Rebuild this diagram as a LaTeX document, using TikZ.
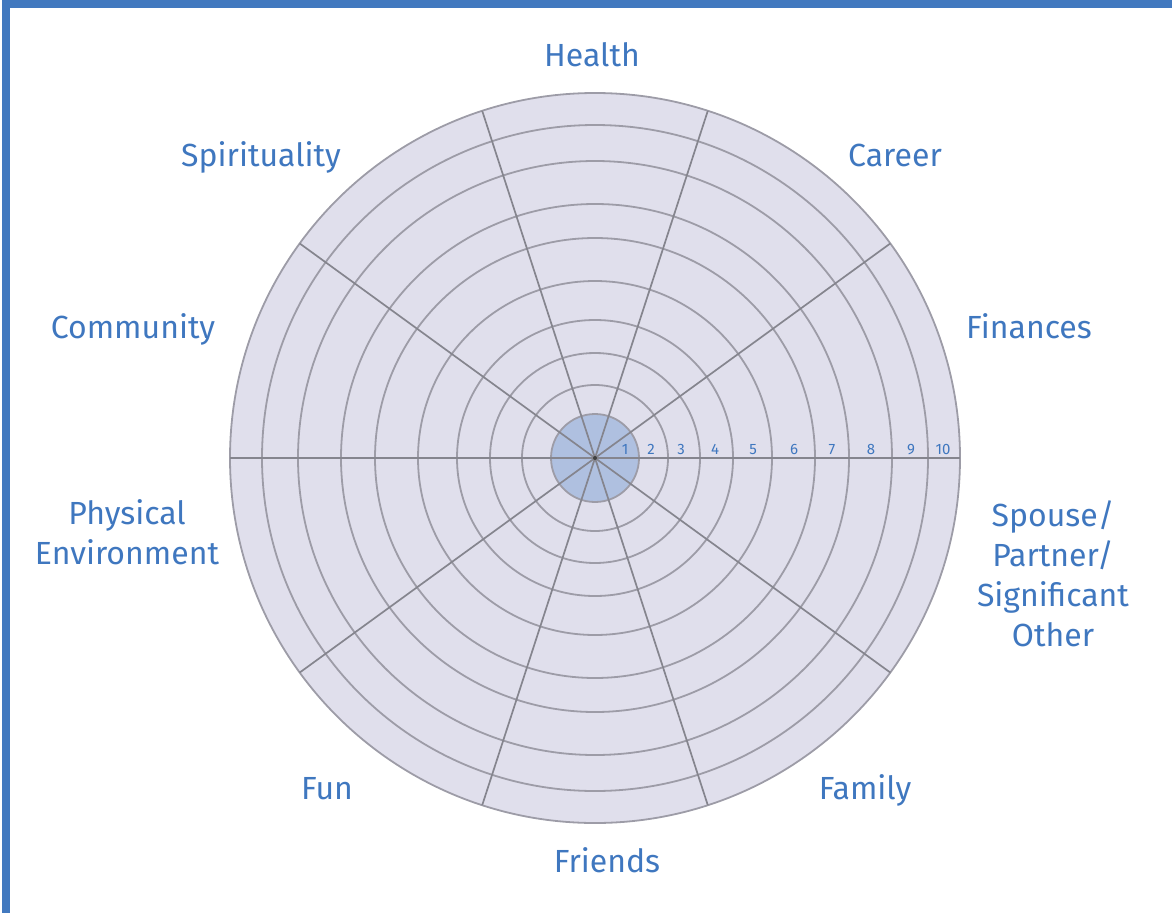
\documentclass[tikz,border=0pt]{standalone}
\usepackage{fontspec}
\setmainfont{Fira Sans}
\usetikzlibrary{calc}

\definecolor{wheelfill}{HTML}{E0DFEC}
\definecolor{corefill}{HTML}{AFC0E0}
\definecolor{gridline}{HTML}{9D9CA7}
\definecolor{labelblue}{HTML}{3F77BF}
\definecolor{framebar}{HTML}{4279BF}

\begin{document}
\begin{tikzpicture}[x=1pt,y=-1pt]

\def\rad{365pt}
\def\angdist{36}
\def\corerad{44pt}

\tikzset{ring/.style = {draw=gridline, line width=1.8pt},
  spoke/.style = {draw=gridline!85!black, line width=1.7pt},
  area/.style = {font=\fontsize{32}{40}\selectfont, text=labelblue, anchor=base, align=center, inner sep=0pt},
  score/.style = {font=\fontsize{15}{15}\selectfont, text=labelblue, anchor=base, inner sep=0pt}}

\useasboundingbox (0,0) rectangle (1172,913);

% frame
\fill[framebar] (2,0) rectangle (1172,8);
\fill[framebar] (2,0) rectangle (10,913);

\coordinate (C1) at (595,458);

% wheel
\fill[wheelfill] (C1) circle (\rad);
\foreach \r in {73,105,138,177,220,254,297,333}
  \draw[ring] (C1) circle (\r pt);
\draw[ring] (C1) circle (\rad);
\draw[ring, fill=corefill] (C1) circle (\corerad);

% spokes
\foreach \i in {0,...,9}
  \path (C1) ++(\i*\angdist:\rad) coordinate (S\i);
\foreach \i [evaluate=\i as \j using int(\i+5)] in {0,...,4}
  \draw[spoke] (S\i) -- (S\j);
\fill[black!75] (C1) circle (2pt);

% scale
\foreach \n/\x in {1/625,2/651,3/681,4/715,5/753,6/794,7/832,8/871,9/911,10/943}
  \node[score] (N\n) at (\x,454) {\n};

% areas
\node[area] (health) at (592,66) {Health};
\node[area] (career) at (895,166) {Career};
\node[area] (finances) at (1029,338) {Finances};
\node[area] (spouse) at (1053,646) {Spouse/\\Partner/\\Significant\\Other};
\node[area] (family) at (865,799) {Family};
\node[area] (friends) at (607,872) {Friends};
\node[area] (fun) at (327,799) {Fun};
\node[area] (physical) at (127,564) {Physical\\Environment};
\node[area] (community) at (133,338) {Community};
\node[area] (spirit) at (261,166) {Spirituality};

\end{tikzpicture}
\end{document}
